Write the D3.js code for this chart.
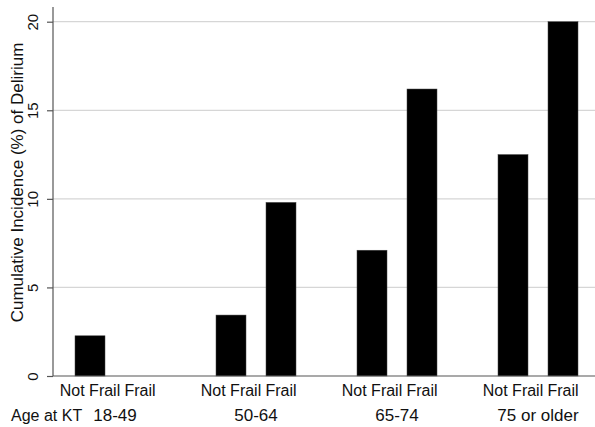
<!DOCTYPE html>
<html><head><meta charset="utf-8">
<script src="https://cdn.jsdelivr.net/npm/d3@7"></script>
<style>
html,body{margin:0;padding:0;background:#fff;}
svg{display:block;font-family:"Liberation Sans",Arial,Helvetica,sans-serif;}
</style></head>
<body><svg id="c" width="595" height="427"></svg>
<script>
const ageGroups = ["18-49", "50-64", "65-74", "75 or older"];
const frailty = ["Not Frail", "Frail"];
const notFrailValues = [2.27, 3.44, 7.1, 12.5];
const frailValues = [0, 9.8, 16.2, 20.0];
const yTicks = [0, 5, 10, 15, 20];
const yTitle = "Cumulative Incidence (%) of Delirium";
const xTitle = "Age at KT";

const data = ageGroups.map((g, i) => ({group: g, values: [
  {frail: frailty[0], v: notFrailValues[i]},
  {frail: frailty[1], v: frailValues[i]}]}));

const svg = d3.select("#c");
const axisX = 53, plotRight = 595, plotTop = 7;

const y = d3.scaleLinear().domain([0, 20]).range([376, 21.7]);
const x0 = d3.scaleBand().domain(ageGroups).range([44.5, 44.5 + 141 * 4]).paddingInner(0).paddingOuter(0);
const x1 = d3.scaleBand().domain(frailty).range([0, x0.bandwidth()]).paddingInner(0.4).paddingOuter(0.61);

// gridlines
svg.append("g").selectAll("line").data(yTicks.filter(d => d > 0)).join("line")
  .attr("x1", axisX).attr("x2", plotRight)
  .attr("y1", d => y(d)).attr("y2", d => y(d))
  .attr("stroke", "#d6d6d6").attr("stroke-width", 1.2);

// bars
const g = svg.append("g").selectAll("g").data(data).join("g")
  .attr("transform", d => `translate(${x0(d.group)},0)`);
g.selectAll("rect").data(d => d.values.filter(v => v.v > 0)).join("rect")
  .attr("x", d => x1(d.frail)).attr("width", x1.bandwidth())
  .attr("y", d => y(d.v)).attr("height", d => y(0) - y(d.v))
  .attr("fill", "#000").attr("stroke", "#444").attr("stroke-width", 0.5);

// y axis
const yAxis = svg.append("g").attr("transform", `translate(${axisX},0)`)
  .call(d3.axisLeft(y).tickValues(yTicks).tickSize(6).tickPadding(0).tickFormat(d3.format("d")));
yAxis.select(".domain").remove();
yAxis.append("line").attr("x1", 0).attr("x2", 0).attr("y1", plotTop).attr("y2", y(0))
  .attr("stroke", "#555").attr("stroke-width", 1.2);
yAxis.selectAll(".tick line").attr("stroke", "#555").attr("stroke-width", 1.2);
yAxis.selectAll(".tick text")
  .attr("transform", "translate(-20,0) rotate(-90)")
  .attr("x", 0).attr("dy", "0.35em")
  .attr("text-anchor", "middle").attr("fill", "#111").style("font-size", "15px")
  .style("font-family", "Liberation Sans, Arial, sans-serif");

// x axis line
svg.append("line").attr("x1", axisX).attr("x2", plotRight).attr("y1", y(0)).attr("y2", y(0))
  .attr("stroke", "#555").attr("stroke-width", 1.2);

// frailty labels
g.selectAll("text.fl").data(d => d.values).join("text").attr("class", "fl")
  .attr("x", d => x1(d.frail) + x1.bandwidth() / 2).attr("y", 396)
  .attr("text-anchor", "middle").attr("fill", "#111").style("font-size", "16px").text(d => d.frail);

// group labels
g.append("text").attr("x", (x1(frailty[0]) + x1(frailty[1]) + x1.bandwidth()) / 2)
  .attr("y", 421).attr("text-anchor", "middle").attr("fill", "#111").style("font-size", "17px").text(d => d.group);

svg.append("text").attr("x", 11).attr("y", 421).attr("fill", "#111").style("font-size", "16px").text(xTitle);

// y title
svg.append("text").attr("transform", `translate(23,182.5) rotate(-90)`)
  .attr("text-anchor", "middle").attr("fill", "#111").style("font-size", "17px").text(yTitle);
</script></body></html>
